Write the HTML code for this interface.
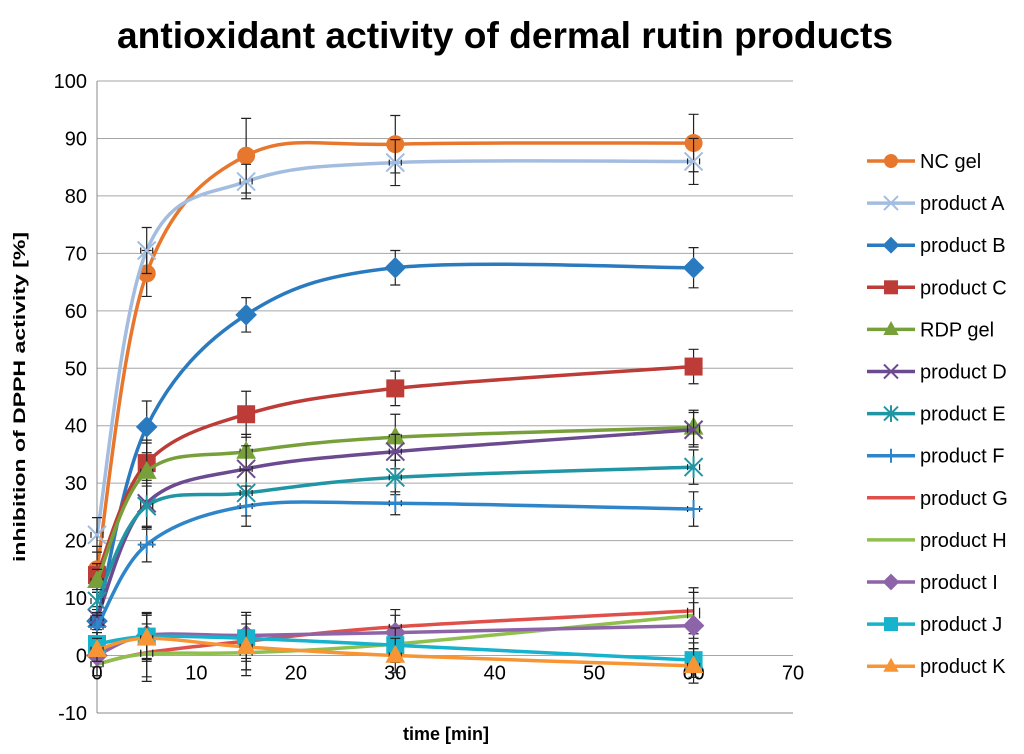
<!DOCTYPE html>
<html><head><meta charset="utf-8"><style>
html,body{margin:0;padding:0;background:#fff;}
svg{display:block;font-family:"Liberation Sans",sans-serif;}
</style></head><body>
<svg id="chart" width="1024" height="754">
<text x="505" y="48" text-anchor="middle" font-size="37" font-weight="bold" fill="#000" textLength="776" lengthAdjust="spacingAndGlyphs">antioxidant activity of dermal rutin products</text>
<text transform="translate(25,397) rotate(-90)" text-anchor="middle" font-size="17" font-weight="bold" textLength="330" lengthAdjust="spacingAndGlyphs">inhibition of DPPH activity [%]</text>
<text x="446" y="740" text-anchor="middle" font-size="18" font-weight="bold">time [min]</text>
<g id="grid"></g><g id="series"></g><g id="legend"></g>
</svg>
<script>
const times=[0,5,15,30,60];
const xTicks=[0,10,20,30,40,50,60,70];
const yTicks=[-10,0,10,20,30,40,50,60,70,80,90,100];
const names=["NC gel","product A","product B","product C","RDP gel","product D","product E","product F","product G","product H","product I","product J","product K"];
const colors=["#e8772e","#a3bde0","#2a7abf","#be3c37","#77a03b","#6b4a8f","#2096a4","#2f85c9","#e0504a","#8fc04e","#8e64a8","#17b2cc","#f79534"];
const markers=["circle","x","diamond","square","triangle","x","star","plus","none","none","diamond","square","triangle"];
const vNC=[15,66.5,87,89,89.2];
const vA=[21,70.5,82.5,85.8,86];
const vB=[6,39.8,59.3,67.5,67.5];
const vC=[14,33.5,42,46.5,50.3];
const vRDP=[13,32,35.5,38,39.7];
const vD=[6.5,26.5,32.5,35.5,39.3];
const vE=[9.5,26,28.3,31,32.8];
const vF=[5,19.3,26,26.5,25.5];
const vG=[-1.5,0.5,2.5,5,7.8];
const vH=[-1.5,0.3,0.5,2,7];
const vI=[0,3.5,3.5,4,5.2];
const vJ=[2,3.3,3,1.8,-0.8];
const vK=[1,3,1.5,0,-1.8];
const errs=[[4,4,6.5,5,5],[3,4,3,4,4],[2,4.5,3,3,3.5],[2,4,4,3,3],[2,5,3,4,3],[2,4,4,3,3],[2,4,4,3,3],[2,3,3.5,2,3],[2,5,5,3,4],[2,4,4,3,4],[2,4,4,3,4],[2,4,4,3,3],[2,4,4,3,3]];
const all=[vNC,vA,vB,vC,vRDP,vD,vE,vF,vG,vH,vI,vJ,vK];
const X0=97,X1=793,Y0=713,Y1=81;
const xs=v=>X0+(v-0)/70*(X1-X0);
const ys=v=>Y0-(v+10)/110*(Y0-Y1);
const NS="http://www.w3.org/2000/svg";
function mk(t,a,p){const e=document.createElementNS(NS,t);for(const k in a)e.setAttribute(k,a[k]);p.appendChild(e);return e;}
const grid=document.getElementById('grid');
yTicks.forEach(t=>{
 const l=mk('line',{x1:X0,x2:X1,y1:ys(t),y2:ys(t),stroke:t===-10?'#888':'#a6a6a6','stroke-width':1},grid);
 
 
 const tx=mk('text',{x:X0-10,y:ys(t)+7,'text-anchor':'end','font-size':20},grid);tx.textContent=t;
 
 
});
mk('line',{x1:X0,x2:X0,y1:Y1,y2:Y0,stroke:'#888'},grid);
xTicks.forEach(t=>{
 const tx=mk('text',{x:xs(t),y:ys(0)+24,'text-anchor':'middle','font-size':20},grid);tx.textContent=t;
 
 
});
function spline(pts){let d=`M${pts[0][0]},${pts[0][1]}`;const tn=0.5/3*2;
 for(let i=0;i<pts.length-1;i++){const p0=pts[i-1]||pts[i],p1=pts[i],p2=pts[i+1],p3=pts[i+2]||p2;
 const c1=[p1[0]+(p2[0]-p0[0])*tn/2,p1[1]+(p2[1]-p0[1])*tn/2],c2=[p2[0]-(p3[0]-p1[0])*tn/2,p2[1]-(p3[1]-p1[1])*tn/2];
 d+=` C${c1[0]},${c1[1]} ${c2[0]},${c2[1]} ${p2[0]},${p2[1]}`;}return d;}
function marker(g,type,x,y,c,s){
 if(type==='circle')mk('circle',{cx:x,cy:y,r:s,fill:c},g);
 else if(type==='square')mk('rect',{x:x-s,y:y-s,width:2*s,height:2*s,fill:c},g);
 else if(type==='diamond')mk('polygon',{points:`${x},${y-s*1.2} ${x+s*1.2},${y} ${x},${y+s*1.2} ${x-s*1.2},${y}`,fill:c},g);
 else if(type==='triangle')mk('polygon',{points:`${x},${y-s*1.2} ${x+s*1.1},${y+s*0.8} ${x-s*1.1},${y+s*0.8}`,fill:c},g);
 else if(type==='x'){mk('path',{d:`M${x-s},${y-s}L${x+s},${y+s}M${x-s},${y+s}L${x+s},${y-s}`,stroke:c,'stroke-width':2,fill:'none'},g);}
 else if(type==='star'){mk('path',{d:`M${x-s},${y-s}L${x+s},${y+s}M${x-s},${y+s}L${x+s},${y-s}M${x},${y-s*1.2}L${x},${y+s*1.2}`,stroke:c,'stroke-width':2,fill:'none'},g);}
 else if(type==='plus'){mk('path',{d:`M${x-s},${y}L${x+s},${y}M${x},${y-s}L${x},${y+s}`,stroke:c,'stroke-width':2,fill:'none'},g);}
}
const sg=document.getElementById('series');
all.forEach((vals,i)=>{
 const g=mk('g',{},sg);
 
 
 const pts=times.map((t,j)=>[xs(t),ys(vals[j])]);
 mk('path',{d:spline(pts),stroke:colors[i],'stroke-width':3.5,fill:'none'},g);
 pts.forEach((p,j)=>{
  const e=errs[i][j],yt=ys(vals[j]+e),yb=ys(vals[j]-e);
  mk('path',{d:`M${p[0]},${yt}L${p[0]},${yb}M${p[0]-5},${yt}L${p[0]+5},${yt}M${p[0]-5},${yb}L${p[0]+5},${yb}M${p[0]-6},${p[1]-3}L${p[0]-6},${p[1]+3}M${p[0]+6},${p[1]-3}L${p[0]+6},${p[1]+3}`,stroke:'#222','stroke-width':1.2,fill:'none'},g);
  marker(g,markers[i],p[0],p[1],colors[i],9);
 });
});
const lg=document.getElementById('legend');
names.forEach((n,i)=>{
 const y=161+i*42.1;
 const g=mk('g',{},lg);
 
 
 mk('line',{x1:867,x2:915,y1:y,y2:y,stroke:colors[i],'stroke-width':3.5},g);
 marker(g,markers[i],891,y,colors[i],7);
 const t=mk('text',{x:920,y:y+7,'font-size':20},g);t.textContent=n;
});
</script>
</body></html>
